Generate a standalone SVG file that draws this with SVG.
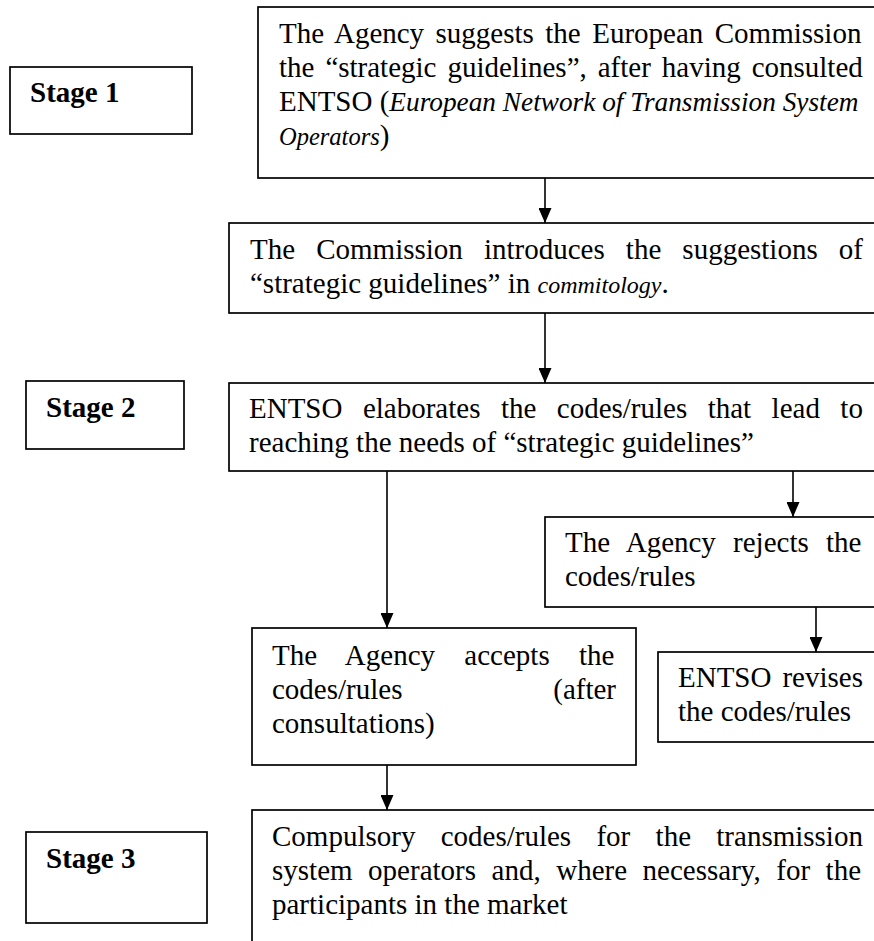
<svg xmlns="http://www.w3.org/2000/svg" width="874" height="941" viewBox="0 0 874 941">
<defs>
<marker id="ah" markerUnits="userSpaceOnUse" markerWidth="15" markerHeight="13" refX="15" refY="6.5" orient="auto">
<path d="M0,0 L15,6.5 L0,13 z" fill="#000"/>
</marker>
<style>
.box{fill:#fff;stroke:#000;stroke-width:1.7}
.t{font-family:"Liberation Serif","Times New Roman",serif;font-size:29px;fill:#000}
.st{font-family:"Liberation Serif","Times New Roman",serif;font-size:29px;font-weight:bold;fill:#000}
.i{font-style:italic}
.conn line{stroke:#000;stroke-width:1.6;marker-end:url(#ah)}
</style>
</defs>
<rect width="874" height="941" fill="#fff"/>

<g id="stage1">
<rect class="box" x="10" y="67" width="182" height="67"/>
<text class="st" x="30" y="102">Stage 1</text>
</g>
<g id="stage2">
<rect class="box" x="26" y="381" width="158" height="68"/>
<text class="st" x="46" y="417">Stage 2</text>
</g>
<g id="stage3">
<rect class="box" x="26" y="832" width="181" height="91"/>
<text class="st" x="46" y="868">Stage 3</text>
</g>

<g id="agency-suggests">
<rect class="box" x="258" y="7" width="622" height="171"/>
<text class="t" x="279" y="43" style="word-spacing:4.2px">The Agency suggests the European Commission</text>
<text class="t" x="279" y="77" style="word-spacing:3.7px">the “strategic guidelines”, after having consulted</text>
<text class="t" x="279" y="111">ENTSO (<tspan class="i" style="font-size:27.3px">European Network of Transmission System</tspan></text>
<text class="t" x="279" y="145"><tspan class="i" style="font-size:24.5px">Operators</tspan>)</text>
</g>

<g id="commission-introduces">
<rect class="box" x="229" y="223" width="651" height="90"/>
<text class="t" x="250" y="259" style="word-spacing:13.85px">The Commission introduces the suggestions of</text>
<text class="t" x="250" y="293">“strategic guidelines” in <tspan class="i" style="font-size:24px">commitology</tspan>.</text>
</g>

<g id="entso-elaborates">
<rect class="box" x="229" y="383" width="651" height="88"/>
<text class="t" x="249" y="418" style="word-spacing:13.2px">ENTSO elaborates the codes/rules that lead to</text>
<text class="t" x="249" y="452">reaching the needs of “strategic guidelines”</text>
</g>

<g id="agency-rejects">
<rect class="box" x="545" y="517" width="335" height="90"/>
<text class="t" x="565" y="552" style="word-spacing:9.95px">The Agency rejects the</text>
<text class="t" x="565" y="586">codes/rules</text>
</g>

<g id="agency-accepts">
<rect class="box" x="252" y="628" width="384" height="137"/>
<text class="t" x="272" y="665" style="word-spacing:22.1px">The Agency accepts the</text>
<text class="t" x="272" y="699">codes/rules</text>
<text class="t" x="616" y="699" text-anchor="end">(after</text>
<text class="t" x="272" y="733">consultations)</text>
</g>

<g id="entso-revises">
<rect class="box" x="658" y="652" width="222" height="90"/>
<text class="t" x="678" y="687" style="word-spacing:3.75px">ENTSO revises</text>
<text class="t" x="678" y="721">the codes/rules</text>
</g>

<g id="compulsory">
<rect class="box" x="252" y="810" width="628" height="140"/>
<text class="t" x="272" y="846" style="word-spacing:18.05px">Compulsory codes/rules for the transmission</text>
<text class="t" x="272" y="880" style="word-spacing:8.3px">system operators and, where necessary, for the</text>
<text class="t" x="272" y="914">participants in the market</text>
</g>

<g id="connectors" class="conn">
<line x1="545" y1="178" x2="545" y2="223"/>
<line x1="545" y1="313" x2="545" y2="383"/>
<line x1="387" y1="471" x2="387" y2="628"/>
<line x1="793" y1="471" x2="793" y2="517"/>
<line x1="816" y1="607" x2="816" y2="652"/>
<line x1="387" y1="765" x2="387" y2="810"/>
</g>
</svg>
